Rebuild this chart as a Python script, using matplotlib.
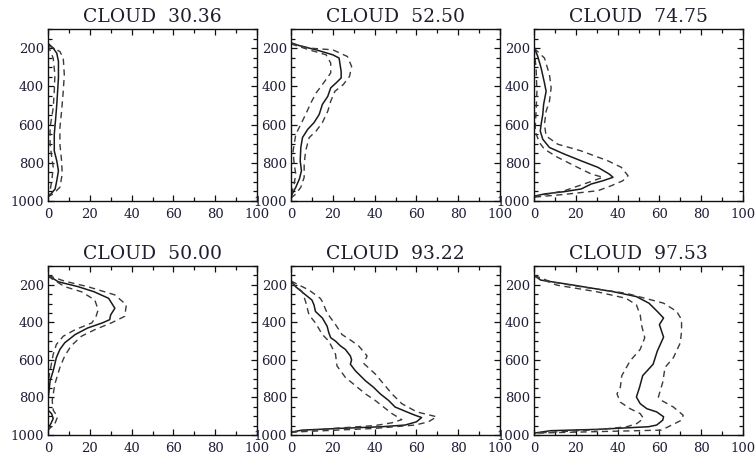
import matplotlib
matplotlib.use("Agg")
import matplotlib.pyplot as plt
from matplotlib.ticker import MultipleLocator

# ---- panel titles ----
titles = ["CLOUD  30.36", "CLOUD  52.50", "CLOUD  74.75",
          "CLOUD  50.00", "CLOUD  93.22", "CLOUD  97.53"]

# ---- panel 1 : CLOUD 30.36 ----
p1_mean = [175, 200, 227, 270, 356, 426, 495, 564, 651, 738, 790, 842, 894, 937, 963, 975]
v1_mean = [0, 2.5, 4.2, 5.0, 5.0, 4.6, 4.2, 3.7, 3.0, 3.0, 4.2, 5.0, 4.2, 3.4, 1.4, 0]
p1_up = [185, 218, 253, 339, 426, 530, 616, 703, 790, 859, 928, 963, 978]
v1_up = [0, 5.7, 7.3, 7.8, 7.3, 6.5, 5.7, 5.7, 6.5, 6.8, 5.7, 2.5, 0]
p1_lo = [185, 253, 339, 426, 512, 616, 703, 772, 824, 894, 946, 967]
v1_lo = [0, 2.5, 3.3, 3.0, 2.5, 1.0, 1.0, 1.8, 2.5, 1.8, 1.0, 0]

# ---- panel 2 : CLOUD 52.50 ----
p2_mean = [172, 187, 209, 235, 252, 322, 356, 382, 408, 452, 495, 547, 590, 625, 668, 720, 790, 842, 885, 928, 963, 985]
v2_mean = [0, 4, 12, 20, 23, 24, 24, 21.6, 19, 17.6, 15, 13.5, 11, 8, 5.5, 4.7, 4.4, 5, 4, 2.3, 0.6, 0]
p2_up = [175, 200, 209, 244, 296, 348, 391, 426, 478, 530, 590, 634, 668, 738, 807, 876, 928, 963, 985]
v2_up = [0, 8.7, 20, 27, 29, 28, 25, 21, 19, 17.6, 15, 12, 8.7, 7, 6.3, 6.3, 4.7, 2.3, 0]
p2_lo = [178, 209, 235, 278, 330, 391, 435, 487, 547, 599, 651, 738, 807, 859, 911, 946, 985]
v2_lo = [0, 8.7, 16.8, 19, 19, 15, 12, 9.5, 7, 4.7, 2.3, 1, 1.5, 2.3, 1.5, 0.6, 0]

# ---- panel 3 : CLOUD 74.75 ----
p3_mean = [192, 244, 304, 382, 426, 495, 547, 599, 634, 677, 720, 755, 790, 824, 859, 876, 894, 911, 937, 951, 963, 975]
v3_mean = [0, 1.8, 3.4, 5.0, 5.8, 4.6, 4.2, 3.4, 3.0, 4.2, 7.4, 14.6, 22.6, 30.6, 36, 37.8, 33, 27.4, 22.6, 14.6, 5, 0]
p3_up = [200, 252, 339, 408, 478, 530, 599, 660, 703, 738, 790, 824, 868, 894, 920, 946, 965, 980]
v3_up = [0, 5, 7.4, 8.2, 7.4, 5.8, 5.0, 5.8, 11.4, 22.6, 35.4, 41.8, 45, 42.5, 37, 30.6, 15, 0]
p3_lo = [200, 304, 426, 530, 634, 694, 729, 772, 816, 859, 876, 903, 928, 946, 965, 978]
v3_lo = [0, 1, 1.4, 1.0, 0.5, 2.6, 5, 11.4, 19.4, 27.4, 33, 26, 19.4, 14.6, 6, 0]

# ---- panel 4 : CLOUD 50.00 ----
p4_mean = [149, 184, 210, 237, 272, 325, 360, 386, 403, 430, 465, 509, 544, 588, 658, 711, 816, 868, 886, 912, 939, 965, 1000]
v4_mean = [0, 4.9, 14.4, 22, 29, 32, 30, 29.5, 26, 19, 13, 8, 5.7, 4, 2.5, 1, 0, 0, 1.7, 2.5, 1.4, 0, 0]
p4_up = [150, 181, 210, 254, 307, 368, 403, 439, 474, 526, 579, 640, 728, 816, 868, 903, 939, 974]
v4_up = [0, 8, 19, 32, 37.5, 36.7, 30.3, 22.4, 16, 11, 8, 5.7, 3.3, 2, 2.5, 4.6, 3.3, 0]
p4_lo = [155, 210, 237, 281, 333, 368, 403, 439, 474, 518, 570, 658, 720]
v4_lo = [0, 8, 16, 22.4, 24, 23, 21, 13, 7.3, 4, 2.5, 1, 0]

# ---- panel 5 : CLOUD 93.22 ----
p5_mean = [175, 184, 210, 254, 281, 307, 342, 377, 421, 456, 482, 500, 526, 544, 579, 600, 623, 658, 711, 746,
           781, 816, 851, 877, 895, 907, 930, 947, 956, 965, 974, 985]
v5_mean = [0, 0.3, 2.2, 7, 10, 11, 11.7, 15, 17.3, 18.1, 19, 21.3, 23.7, 26, 28.4, 29, 28.4, 30.8, 35.6, 39.5,
           42.7, 46.7, 49.8, 55.4, 59.4, 62.5, 60, 54.6, 43.5, 22.9, 5.4, 0]
p5_up = [180, 228, 272, 290, 351, 412, 465, 500, 526, 579, 600, 620, 675, 728, 781, 833, 877, 903, 930, 947, 965, 985]
v5_up = [0, 8.6, 14, 15, 17.3, 21.3, 24.4, 29.2, 32.4, 36.4, 35.5, 34.9, 40.3, 44.3, 48.3, 53, 60.2, 69.7, 65.7, 59.4, 40, 0]
p5_lo = [185, 237, 290, 360, 403, 465, 500, 570, 632, 693, 737, 781, 816, 851, 886, 918, 935, 950, 965, 985]
v5_lo = [0, 5.4, 7, 8.6, 11.7, 15, 18.1, 21.3, 22, 26, 30.8, 35.6, 40.3, 44.3, 48.3, 53, 48.3, 40, 20, 0]

# ---- panel 6 : CLOUD 97.53 ----
p6_mean = [149, 175, 202, 237, 263, 298, 342, 377, 412, 479, 553, 623, 684, 746, 798, 833, 860, 877, 903, 921,
           947, 956, 970, 977, 990]
v6_mean = [0, 3.2, 19, 38, 49, 55, 59, 62, 60, 62, 59, 57, 52, 50.5, 49, 50.8, 54, 58.7, 62, 61.6,
           58.7, 54.8, 30, 8, 0]
p6_up = [150, 184, 210, 245, 298, 342, 386, 447, 509, 588, 640, 719, 798, 816, 851, 895, 921, 947, 974, 990]
v6_up = [0, 8, 22, 44, 62, 68.3, 70.6, 70.6, 70, 66.7, 62.7, 61.6, 59.5, 61, 66.7, 71.4, 70.6, 65.9, 61, 0]
p6_lo = [155, 202, 237, 272, 307, 360, 421, 482, 544, 605, 684, 746, 781, 825, 860, 886, 912, 939, 956, 972, 990]
v6_lo = [0, 11, 30, 44, 49, 50.8, 51.6, 53, 50.8, 46, 42, 41.3, 39.7, 41.3, 46, 50.8, 52.4, 49.2, 44.4, 30, 0]

panels = [
    (p1_mean, v1_mean, p1_up, v1_up, p1_lo, v1_lo),
    (p2_mean, v2_mean, p2_up, v2_up, p2_lo, v2_lo),
    (p3_mean, v3_mean, p3_up, v3_up, p3_lo, v3_lo),
    (p4_mean, v4_mean, p4_up, v4_up, p4_lo, v4_lo),
    (p5_mean, v5_mean, p5_up, v5_up, p5_lo, v5_lo),
    (p6_mean, v6_mean, p6_up, v6_up, p6_lo, v6_lo),
]

W, H = 755, 458
fig = plt.figure(figsize=(W / 100, H / 100), dpi=100)

# axes boxes in pixels
lefts = [48, 291, 534]
rows = [(29, 172), (266, 169)]   # (top, height)
panel_w = 209

label_color = "#1e1e38"
serif = ["DejaVu Serif"]

for i, (pm, vm, pu, vu, pl, vl) in enumerate(panels):
    r, c = divmod(i, 3)
    top, h = rows[r]
    left = lefts[c]
    ax = fig.add_axes([left / W, 1 - (top + h) / H, panel_w / W, h / H])

    ax.plot(vm, pm, color="#1a1a1a", lw=1.1, solid_joinstyle="round")
    ax.plot(vu, pu, color="#3a3a3a", lw=1.0, linestyle=(0, (4.5, 3.2)))
    ax.plot(vl, pl, color="#3a3a3a", lw=1.0, linestyle=(0, (4.5, 3.2)))

    ax.set_xlim(0, 100)
    ax.set_ylim(1000, 100)
    ax.xaxis.set_major_locator(MultipleLocator(20))
    ax.xaxis.set_minor_locator(MultipleLocator(10))
    ax.yaxis.set_major_locator(MultipleLocator(200))
    ax.yaxis.set_minor_locator(MultipleLocator(50))
    ax.tick_params(which="both", direction="in", top=True, right=True,
                   colors="#111111", width=0.9)
    ax.tick_params(which="major", length=4.5, labelsize=9.5,
                   labelcolor=label_color)
    ax.tick_params(axis="x", which="major", pad=5)
    ax.tick_params(axis="y", which="major", pad=3)
    ax.tick_params(which="minor", length=3)
    for lab in ax.get_xticklabels() + ax.get_yticklabels():
        lab.set_family(serif)
    for s in ax.spines.values():
        s.set_linewidth(1.0)
        s.set_color("#111111")

    ax.set_title(titles[i], fontsize=13.5, family=serif, color="#1e1e2e", pad=5)

fig.savefig("out.png", dpi=100)
